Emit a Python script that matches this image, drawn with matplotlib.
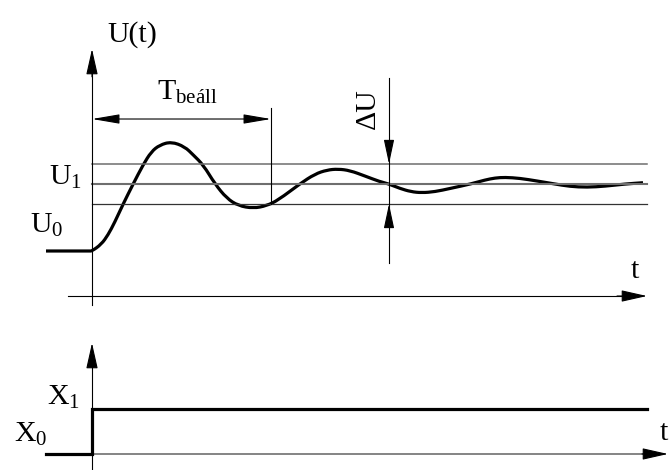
import numpy as np
import matplotlib
matplotlib.use("Agg")
import matplotlib.pyplot as plt
from matplotlib.path import Path
from matplotlib.patches import PathPatch

plt.rcParams["font.family"] = ["Liberation Serif", "DejaVu Serif"]
plt.rcParams["mathtext.fontset"] = "custom"
plt.rcParams["mathtext.rm"] = "Liberation Serif"
plt.rcParams["mathtext.it"] = "Liberation Serif:italic"

# Valasz U(t): ido (t) es kimenet (U0 = 0, U1 = 1 egysegben)
T_VALASZ = [-0.92, -0.05, 0.0, 0.186, 0.32, 0.454, 0.62, 0.82, 1.02, 1.186,
            1.354, 1.586, 1.854, 2.026, 2.226, 2.46, 2.694, 2.926, 3.226,
            3.494, 3.726, 4.16, 4.46, 4.70, 4.92, 5.16, 5.46, 5.76, 5.926,
            6.16, 6.38, 6.594, 6.86, 7.16, 7.594, 7.86, 8.06, 8.26, 8.56,
            8.90, 9.226, 9.56, 9.90, 10.26, 10.66, 11.02]
U_VALASZ = [0.0, 0.0, 0.0, 0.100, 0.239, 0.428, 0.697, 0.996, 1.284, 1.482,
            1.582, 1.631, 1.557, 1.433, 1.284, 1.000, 0.787, 0.676, 0.637,
            0.676, 0.761, 1.004, 1.149, 1.209, 1.224, 1.201, 1.119, 1.034, 1.004,
            0.933, 0.885, 0.869, 0.885, 0.933, 1.004, 1.060, 1.090, 1.100, 1.085,
            1.045, 1.004, 0.963, 0.951, 0.967, 1.000, 1.019]

# Bemeneti ugras X(t)
T_UGRAS = [-0.92, 0.0, 0.0, 11.1]
X_UGRAS = [0, 0, 1, 1]

U1 = 1.0
DELTA_U = 0.3
T_BEALL = 3.58
T_DELTA = 5.94
T_VEG = 11.1

FS = 21.5


def nyil(ax, veg, kezdet, stilus="-|>", hossz=1.6, szel=0.36, lw=0.8):
    ax.annotate("", xy=veg, xytext=kezdet,
                arrowprops=dict(arrowstyle=f"{stilus},head_length={hossz},head_width={szel}",
                                lw=lw, color="k", shrinkA=0, shrinkB=0,
                                mutation_scale=10))


def sima_gorbe(ax, xs, ys, **kw):
    # masodfoku Bezier-szakaszok a pontok kozti felezopontokon at
    p = np.column_stack([xs, ys])
    verts = [p[0]]
    codes = [Path.MOVETO]
    for i in range(1, len(p) - 1):
        verts += [p[i], (p[i] + p[i + 1]) / 2]
        codes += [Path.CURVE3, Path.CURVE3]
    verts.append(p[-1])
    codes.append(Path.LINETO)
    ax.add_patch(PathPatch(Path(verts, codes), fill=False, **kw))


fig = plt.figure(figsize=(6.69, 4.70), dpi=100)

# felso abra: kimenet
ax = fig.add_axes([0, 150 / 470, 1, 320 / 470])
ax.set_xlim(-1.84, 11.54)
ax.set_ylim(-1.0299, 3.7463)
ax.axis("off")

ax.plot([0, T_VEG], [U1 + DELTA_U] * 2, color="#6e6e6e", lw=1.1)
ax.plot([0, T_VEG], [U1] * 2, color="#6e6e6e", lw=1.5)
ax.plot([0, T_VEG], [U1 - DELTA_U] * 2, color="#333333", lw=0.9)

ax.plot([0, 0], [-0.806, 2.9], color="k", lw=0.8)
nyil(ax, (0, 3.015), (0, 2.6))
ax.plot([-0.48, 10.8], [-0.672, -0.672], color="k", lw=0.8)
nyil(ax, (11.1, -0.672), (10.5, -0.672))

sima_gorbe(ax, T_VALASZ, U_VALASZ, edgecolor="k", lw=2.3,
           capstyle="butt", joinstyle="round")

# beallasi ido
ax.plot([T_BEALL, T_BEALL], [2.134, U1 - DELTA_U], color="k", lw=0.8)
nyil(ax, (T_BEALL, 1.97), (0, 1.97), stilus="<|-|>", hossz=1.7, szel=0.29)

# tures sav
ax.plot([T_DELTA, T_DELTA], [2.582, -0.179], color="k", lw=0.8)
nyil(ax, (T_DELTA, U1 + DELTA_U), (T_DELTA, 1.62), hossz=1.5, szel=0.32)
nyil(ax, (T_DELTA, U1 - DELTA_U), (T_DELTA, 0.37), hossz=1.5, szel=0.32)

ax.text(0.30, 3.119, "U(t)", fontsize=FS, ha="left", va="baseline")
ax.text(-0.20, 0.985, r"$\mathrm{U}_1$", fontsize=FS, ha="right", va="baseline")
ax.text(-0.58, 0.269, r"$\mathrm{U}_0$", fontsize=FS, ha="right", va="baseline")
ax.text(1.30, 2.254, r"$\mathrm{T}_{\mathrm{beáll}}$", fontsize=FS,
        ha="left", va="baseline")
ax.text(5.51, 2.119, "ΔU", fontsize=FS, rotation=90, ha="center", va="center")
ax.text(10.86, -0.403, "t", fontsize=FS, ha="center", va="baseline")

# also abra: bemenet
bx = fig.add_axes([0, 0, 1, 150 / 470])
bx.set_xlim(-1.84, 11.54)
bx.set_ylim(-0.356, 2.978)
bx.axis("off")

bx.plot([0, 0], [-0.356, 2.2], color="k", lw=0.8)
nyil(bx, (0, 2.467), (0, 2.0))
bx.plot([0, 11.0], [0, 0], color="#707070", lw=1.2)
nyil(bx, (11.52, 0), (11.0, 0))

bx.plot(T_UGRAS, X_UGRAS, color="k", lw=2.3, solid_joinstyle="miter")

bx.text(-0.24, 1.089, r"$\mathrm{X}_1$", fontsize=FS, ha="right", va="baseline")
bx.text(-0.90, 0.267, r"$\mathrm{X}_0$", fontsize=FS, ha="right", va="baseline")
bx.text(11.53, 0.311, "t", fontsize=FS, ha="right", va="baseline")

fig.savefig("out.png", dpi=100)
